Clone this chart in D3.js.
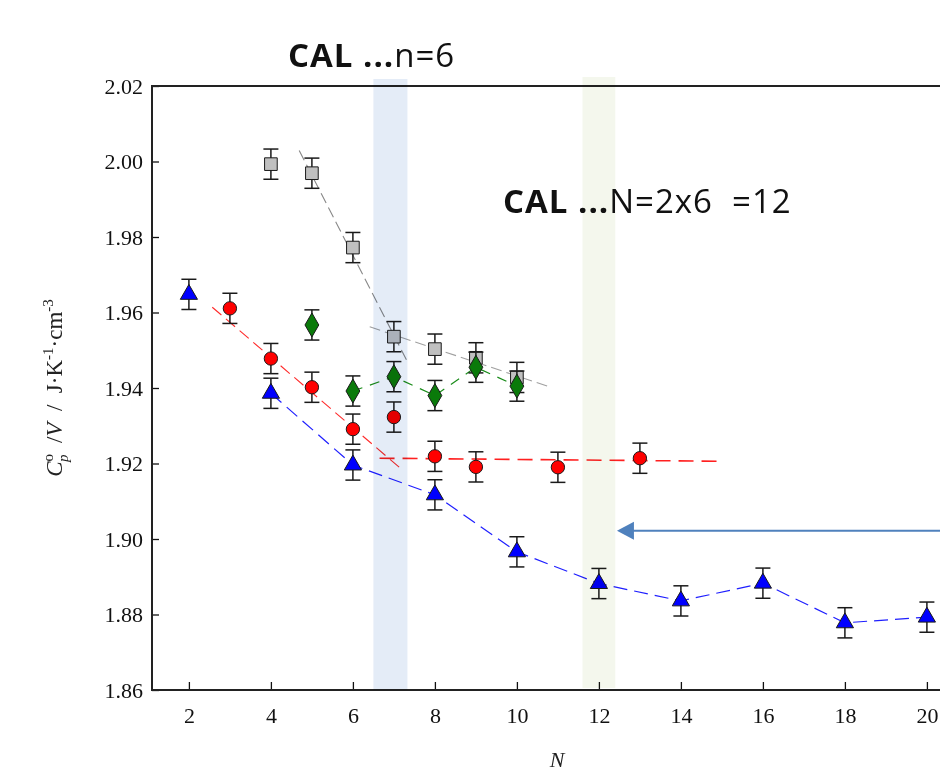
<!DOCTYPE html>
<html>
<head>
<meta charset="utf-8">
<script src="https://d3js.org/d3.v7.min.js"></script>
<style>
    body { margin: 0; background: #fff; }
    svg { display: block; }
</style>
</head>
<body>
<div id="chart"></div>
<script>
// data
var blueN   = [2, 4, 6, 8, 10, 12, 14, 16, 18, 20];
var blueV   = [1.9648, 1.9386, 1.9196, 1.9117, 1.8966, 1.8882, 1.8836, 1.8883, 1.8778, 1.8793];
var redN    = [3, 4, 5, 6, 7, 8, 9, 11, 13];
var redV    = [1.9611, 1.9478, 1.9402, 1.9291, 1.9323, 1.9219, 1.9191, 1.9190, 1.9214];
var greenN  = [5, 6, 7, 8, 9, 10];
var greenV  = [1.9567, 1.9392, 1.9430, 1.9380, 1.9455, 1.9405];
var grayN   = [4, 5, 6, 7, 8, 9, 10];
var grayV   = [1.9993, 1.9969, 1.9772, 1.9536, 1.9503, 1.9480, 1.9428];
var errBar  = 0.004;

// dashed guide lines
var blueFitN  = [4, 6, 8, 10, 12, 14, 16, 18, 20];
var blueFitV  = [1.9386, 1.9196, 1.9117, 1.8966, 1.8882, 1.8836, 1.8883, 1.8778, 1.8793];
var greenFitN = [6, 7, 8, 9, 10];
var greenFitV = [1.9392, 1.9430, 1.9380, 1.9455, 1.9405];
var redSteepN = [2.57, 7.13];
var redSteepV = [1.9614, 1.9190];
var redFlatN  = [6.65, 14.9];
var redFlatV  = [1.9214, 1.9206];
var grayStN   = [4.69, 7.31];
var grayStV   = [2.0029, 1.9474];
var grayShN   = [6.41, 10.8];
var grayShV   = [1.9562, 1.9403];

var bandN1 = [6.5, 7.33];
var bandN2 = [11.6, 12.4];
var arrowV = 1.9022;
var arrowN = 12.44;

var yTicks = [1.86, 1.88, 1.90, 1.92, 1.94, 1.96, 1.98, 2.00, 2.02];
var xTicks = [2, 4, 6, 8, 10, 12, 14, 16, 18, 20];

var W = 940, H = 774;
var svg = d3.select("#chart").append("svg")
    .attr("width", W).attr("height", H);

var x = d3.scaleLinear().domain([1.1, 22]).range([152, 152 + 20.9 * 41]);
var y = d3.scaleLinear().domain([1.86, 2.02]).range([690, 86]);

function zip(ns, vs) { return ns.map(function (n, i) { return { n: n, v: vs[i] }; }); }

// axes (ticks point inward)
svg.append("g")
    .attr("transform", "translate(152,0)")
    .call(d3.axisRight(y).tickValues(yTicks).tickSize(7).tickFormat(d3.format(".2f")))
    .call(function (g) {
        g.select(".domain").remove();
        g.selectAll("line").attr("stroke", "#111").attr("stroke-width", 1.3);
        g.selectAll("text").attr("x", -9).attr("text-anchor", "end")
            .style("font-family", "'Liberation Serif', serif").style("font-size", "22px").attr("fill", "#111");
    });
svg.append("g")
    .attr("transform", "translate(0,690)")
    .call(d3.axisTop(x).tickValues(xTicks).tickSize(8).tickFormat(d3.format("d")))
    .call(function (g) {
        g.select(".domain").remove();
        g.selectAll("line").attr("stroke", "#111").attr("stroke-width", 1.3);
        g.selectAll("text").attr("y", 33).attr("dy", 0)
            .style("font-family", "'Liberation Serif', serif").style("font-size", "22px").attr("fill", "#111");
    });

// frame lines
svg.append("line").attr("x1", 152).attr("x2", W).attr("y1", 690).attr("y2", 690)
    .attr("stroke", "#222").attr("stroke-width", 2);
svg.append("line").attr("x1", 152).attr("x2", W).attr("y1", 86).attr("y2", 86)
    .attr("stroke", "#222").attr("stroke-width", 2);
svg.append("line").attr("x1", 152).attr("x2", 152).attr("y1", 85).attr("y2", 691)
    .attr("stroke", "#222").attr("stroke-width", 2);

// dashed fits
var line = d3.line().x(function (d) { return x(d.n); }).y(function (d) { return y(d.v); });
var fits = [
    { d: zip(grayStN, grayStV), c: "#888", w: 1.1, dash: "11,5" },
    { d: zip(grayShN, grayShV), c: "#a0a0a0", w: 1.1, dash: "11,5" },
    { d: zip(redSteepN, redSteepV), c: "#ff2a2a", w: 1.1, dash: "12,6" },
    { d: zip(redFlatN, redFlatV), c: "#ff2020", w: 1.6, dash: "15,8" },
    { d: zip(greenFitN, greenFitV), c: "#1a8c1a", w: 1.2, dash: "10,8" },
    { d: zip(blueFitN, blueFitV), c: "#1f1fff", w: 1.2, dash: "14,7" }
];
fits.forEach(function (f) {
    svg.append("path")
        .datum(f.d)
        .attr("d", line)
        .attr("fill", "none")
        .attr("stroke", f.c)
        .attr("stroke-width", f.w)
        .attr("stroke-dasharray", f.dash);
});

// series with error bars
var series = [
    { d: zip(grayN, grayV), shape: d3.symbolSquare, size: 160, fill: "#c0c0c0" },
    { d: zip(greenN, greenV), shape: d3.symbolDiamond, size: 165, fill: "#0a7a0a" },
    { d: zip(redN, redV), shape: d3.symbolCircle, size: 140, fill: "#ff0000" },
    { d: zip(blueN, blueV), shape: d3.symbolTriangle, size: 128, fill: "#0000ff" }
];
series.forEach(function (s) {
    var g = svg.append("g");
    var eb = g.selectAll(".eb").data(s.d).enter().append("g")
        .attr("stroke", "#1a1a1a").attr("stroke-width", 1.5);
    eb.append("line")
        .attr("x1", function (d) { return x(d.n); }).attr("x2", function (d) { return x(d.n); })
        .attr("y1", function (d) { return y(d.v + errBar); }).attr("y2", function (d) { return y(d.v - errBar); });
    eb.append("line")
        .attr("x1", function (d) { return x(d.n) - 7.5; }).attr("x2", function (d) { return x(d.n) + 7.5; })
        .attr("y1", function (d) { return y(d.v + errBar); }).attr("y2", function (d) { return y(d.v + errBar); });
    eb.append("line")
        .attr("x1", function (d) { return x(d.n) - 7.5; }).attr("x2", function (d) { return x(d.n) + 7.5; })
        .attr("y1", function (d) { return y(d.v - errBar); }).attr("y2", function (d) { return y(d.v - errBar); });
    g.selectAll(".pt").data(s.d).enter().append("path")
        .attr("d", d3.symbol().type(s.shape).size(s.size))
        .attr("transform", function (d) { return "translate(" + x(d.n) + "," + y(d.v) + ")"; })
        .attr("fill", s.fill)
        .attr("stroke", "#1a1a1a")
        .attr("stroke-width", 1);
});

// highlight bands, multiplied over the marks
svg.append("rect")
    .attr("x", x(bandN1[0])).attr("width", x(bandN1[1]) - x(bandN1[0]))
    .attr("y", 79).attr("height", 690 - 79)
    .attr("fill", "rgb(228,236,247)").style("mix-blend-mode", "multiply");
svg.append("rect")
    .attr("x", x(bandN2[0])).attr("width", x(bandN2[1]) - x(bandN2[0]))
    .attr("y", 77).attr("height", 688 - 77)
    .attr("fill", "rgb(244,247,237)").style("mix-blend-mode", "multiply");

// arrow
svg.append("line")
    .attr("x1", x(arrowN) + 14).attr("x2", W)
    .attr("y1", y(arrowV)).attr("y2", y(arrowV))
    .attr("stroke", "#4f81bd").attr("stroke-width", 2);
svg.append("path")
    .attr("d", "M" + x(arrowN) + "," + y(arrowV) + " l17,-9 l0,18 z")
    .attr("fill", "#4f81bd");

// annotations
var t1 = svg.append("text").attr("x", 288).attr("y", 67)
    .style("font-family", "'Open Sans', sans-serif").style("font-size", "33px")
    .style("letter-spacing", "1px").attr("fill", "#111");
t1.append("tspan").style("font-weight", "bold").text("CAL ...");
t1.append("tspan").text("n=6");

var t2 = svg.append("text").attr("x", 503).attr("y", 213)
    .style("font-family", "'Open Sans', sans-serif").style("font-size", "33px")
    .style("letter-spacing", "1px").attr("fill", "#111")
    .attr("xml:space", "preserve");
t2.append("tspan").style("font-weight", "bold").text("CAL ...");
t2.append("tspan").text("N=2x6  =12");

// axis titles
var yl = svg.append("text")
    .attr("transform", "translate(62,388) rotate(-90)")
    .attr("text-anchor", "middle")
    .attr("xml:space", "preserve")
    .style("font-family", "'Liberation Serif', serif").style("font-size", "23px").attr("fill", "#222");
yl.append("tspan").style("font-style", "italic").text("C");
yl.append("tspan").attr("dy", -9).style("font-size", "15px").text("o");
yl.append("tspan").attr("dx", -8).attr("dy", 15).style("font-size", "15px").style("font-style", "italic").text("p");
yl.append("tspan").attr("dy", -6).text("  /");
yl.append("tspan").style("font-style", "italic").text("V");
yl.append("tspan").text("  /  J\u00b7K");
yl.append("tspan").attr("dy", -9).style("font-size", "15px").text("-1");
yl.append("tspan").attr("dy", 9).text("\u00b7cm");
yl.append("tspan").attr("dy", -9).style("font-size", "15px").text("-3");

svg.append("text")
    .attr("x", 557).attr("y", 767)
    .attr("text-anchor", "middle")
    .style("font-family", "'Liberation Serif', serif").style("font-size", "22px")
    .style("font-style", "italic").attr("fill", "#222")
    .text("N");
</script>
</body>
</html>
